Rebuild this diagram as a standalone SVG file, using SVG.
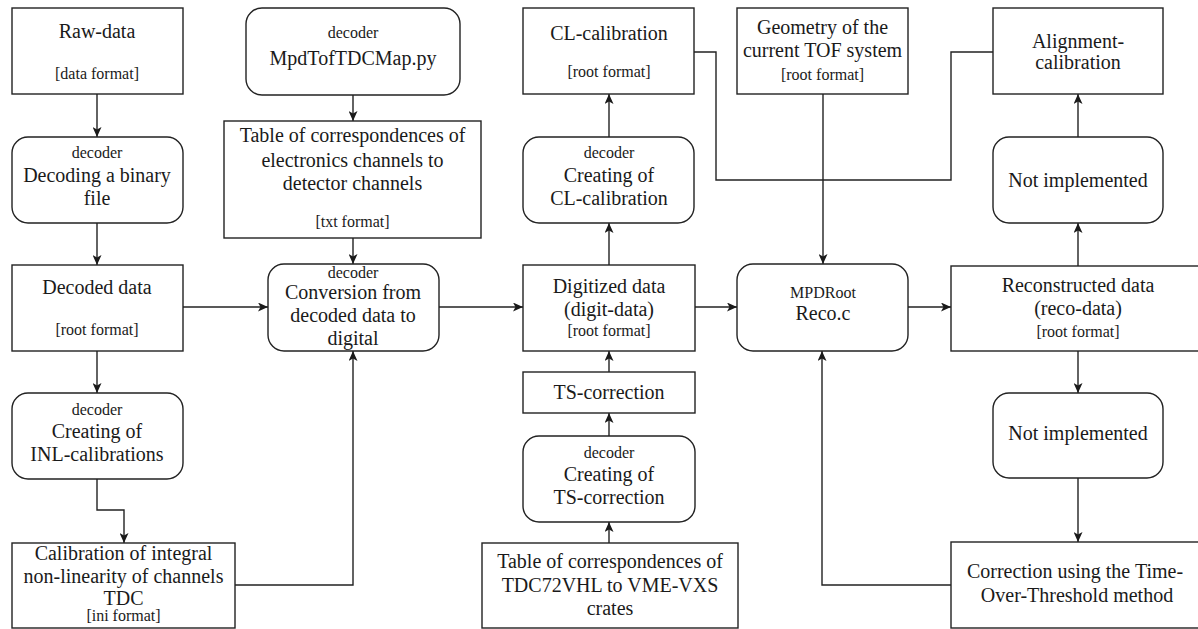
<svg xmlns="http://www.w3.org/2000/svg" width="1198" height="629" viewBox="0 0 1198 629">
<defs>
<marker id="ah" markerWidth="11" markerHeight="9" refX="10" refY="4.5" orient="auto" markerUnits="userSpaceOnUse">
<path d="M0,0 L10,4.5 L0,9 L2.5,4.5 z" fill="#1a1a1a"/>
</marker>
</defs>
<style>
rect{fill:#fff;stroke:#222;stroke-width:1.4}
text{font-family:"Liberation Serif","Times New Roman",serif;fill:#1a1a1a;text-anchor:middle}
.m{font-size:20px}
.s{font-size:16px}
.c line,.c polyline{fill:none;stroke:#222;stroke-width:1.4}
.a{marker-end:url(#ah)}
</style>
<rect x="0" y="0" width="1198" height="629" style="fill:#fff;stroke:none"/>
<g class="c" id="connectors">
<line class="a" x1="97" y1="94" x2="97" y2="137"/>
<line class="a" x1="97" y1="223" x2="97" y2="265"/>
<line class="a" x1="97" y1="351" x2="97" y2="393"/>
<polyline class="a" points="97,479 97,510 124,510 124,543"/>
<line class="a" x1="183" y1="307" x2="268" y2="307"/>
<line class="a" x1="353" y1="95" x2="353" y2="121"/>
<line class="a" x1="353" y1="238" x2="353" y2="264"/>
<polyline class="a" points="235,585 353,585 353,351"/>
<line class="a" x1="439" y1="307" x2="523" y2="307"/>
<line class="a" x1="609" y1="265" x2="609" y2="223"/>
<line class="a" x1="609" y1="137" x2="609" y2="94"/>
<line class="a" x1="609" y1="372" x2="609" y2="351"/>
<line class="a" x1="609" y1="436" x2="609" y2="413"/>
<line class="a" x1="609" y1="543" x2="609" y2="522"/>
<line class="a" x1="695" y1="307" x2="737" y2="307"/>
<polyline points="694,52 716,52 716,180 951,180 951,52 993,52"/>
<line class="a" x1="823" y1="94" x2="823" y2="264"/>
<line class="a" x1="908" y1="307" x2="951" y2="307"/>
<line class="a" x1="1078" y1="266" x2="1078" y2="223"/>
<line class="a" x1="1078" y1="137" x2="1078" y2="94"/>
<line class="a" x1="1078" y1="351" x2="1078" y2="393"/>
<line class="a" x1="1078" y1="478" x2="1078" y2="542"/>
<polyline class="a" points="951,585 822,585 822,351"/>
</g>
<g id="raw-data">
<rect x="12" y="8" width="171" height="86"/>
<text class="m" x="97" y="38">Raw-data</text>
<text class="s" x="97" y="79">[data format]</text>
</g>
<g id="decoding">
<rect x="12" y="137" width="171" height="86" rx="16"/>
<text class="s" x="97" y="158">decoder</text>
<text class="m" x="97" y="182">Decoding a binary</text>
<text class="m" x="97" y="205">file</text>
</g>
<g id="decoded-data">
<rect x="12" y="265" width="171" height="86"/>
<text class="m" x="97" y="294">Decoded data</text>
<text class="s" x="97" y="335">[root format]</text>
</g>
<g id="inl">
<rect x="12" y="393" width="171" height="86" rx="16"/>
<text class="s" x="97" y="415">decoder</text>
<text class="m" x="97" y="438">Creating of</text>
<text class="m" x="97" y="461">INL-calibrations</text>
</g>
<g id="calibration">
<rect x="12" y="543" width="223" height="85"/>
<text class="m" x="123.5" y="560">Calibration of integral</text>
<text class="m" x="123.5" y="583">non-linearity of channels</text>
<text class="m" x="123.5" y="605">TDC</text>
<text class="s" x="123.5" y="621">[ini format]</text>
</g>
<g id="mpdtof">
<rect x="246" y="8" width="214" height="87" rx="16"/>
<text class="s" x="353" y="38">decoder</text>
<text class="m" x="353" y="65">MpdTofTDCMap.py</text>
</g>
<g id="table-channels">
<rect x="224" y="121" width="257" height="117"/>
<text class="m" x="352.5" y="142">Table of correspondences of</text>
<text class="m" x="352.5" y="167">electronics channels to</text>
<text class="m" x="352.5" y="190">detector channels</text>
<text class="s" x="352.5" y="227">[txt format]</text>
</g>
<g id="conversion">
<rect x="268" y="264" width="171" height="87" rx="16"/>
<text class="s" x="353" y="278">decoder</text>
<text class="m" x="353" y="299">Conversion from</text>
<text class="m" x="353" y="322">decoded data to</text>
<text class="m" x="353" y="345">digital</text>
</g>
<g id="cl-calibration">
<rect x="523" y="8" width="171" height="86"/>
<text class="m" x="609" y="40">CL-calibration</text>
<text class="s" x="609" y="77">[root format]</text>
</g>
<g id="creating-cl">
<rect x="523" y="137" width="171" height="86" rx="16"/>
<text class="s" x="609" y="158">decoder</text>
<text class="m" x="609" y="182">Creating of</text>
<text class="m" x="609" y="205">CL-calibration</text>
</g>
<g id="digitized">
<rect x="523" y="265" width="172" height="86"/>
<text class="m" x="609" y="293">Digitized data</text>
<text class="m" x="609" y="316">(digit-data)</text>
<text class="s" x="609" y="336">[root format]</text>
</g>
<g id="ts-correction">
<rect x="523" y="372" width="172" height="41"/>
<text class="m" x="609" y="399">TS-correction</text>
</g>
<g id="creating-ts">
<rect x="523" y="436" width="172" height="86" rx="16"/>
<text class="s" x="609" y="458">decoder</text>
<text class="m" x="609" y="481">Creating of</text>
<text class="m" x="609" y="504">TS-correction</text>
</g>
<g id="table-tdc">
<rect x="482" y="543" width="256" height="85"/>
<text class="m" x="610" y="568">Table of correspondences of</text>
<text class="m" x="610" y="592">TDC72VHL to VME-VXS</text>
<text class="m" x="610" y="615">crates</text>
</g>
<g id="geometry">
<rect x="737" y="8" width="171" height="86"/>
<text class="m" x="822.5" y="34">Geometry of the</text>
<text class="m" x="822.5" y="57">current TOF system</text>
<text class="s" x="822.5" y="80">[root format]</text>
</g>
<g id="reco">
<rect x="737" y="264" width="171" height="87" rx="16"/>
<text class="s" x="823" y="298">MPDRoot</text>
<text class="m" x="823" y="320">Reco.c</text>
</g>
<g id="alignment">
<rect x="993" y="8" width="170" height="86"/>
<text class="m" x="1078" y="48">Alignment-</text>
<text class="m" x="1078" y="69">calibration</text>
</g>
<g id="not-implemented-1">
<rect x="993" y="137" width="170" height="86" rx="16"/>
<text class="m" x="1078" y="187">Not implemented</text>
</g>
<g id="reconstructed">
<rect x="951" y="266" width="260" height="85"/>
<text class="m" x="1078" y="292">Reconstructed data</text>
<text class="m" x="1078" y="315">(reco-data)</text>
<text class="s" x="1078" y="337">[root format]</text>
</g>
<g id="not-implemented-2">
<rect x="993" y="393" width="170" height="85" rx="16"/>
<text class="m" x="1078" y="440">Not implemented</text>
</g>
<g id="tot">
<rect x="951" y="542" width="260" height="86"/>
<text class="m" x="1075" y="578">Correction using the Time-</text>
<text class="m" x="1077" y="602">Over-Threshold method</text>
</g>
</svg>
